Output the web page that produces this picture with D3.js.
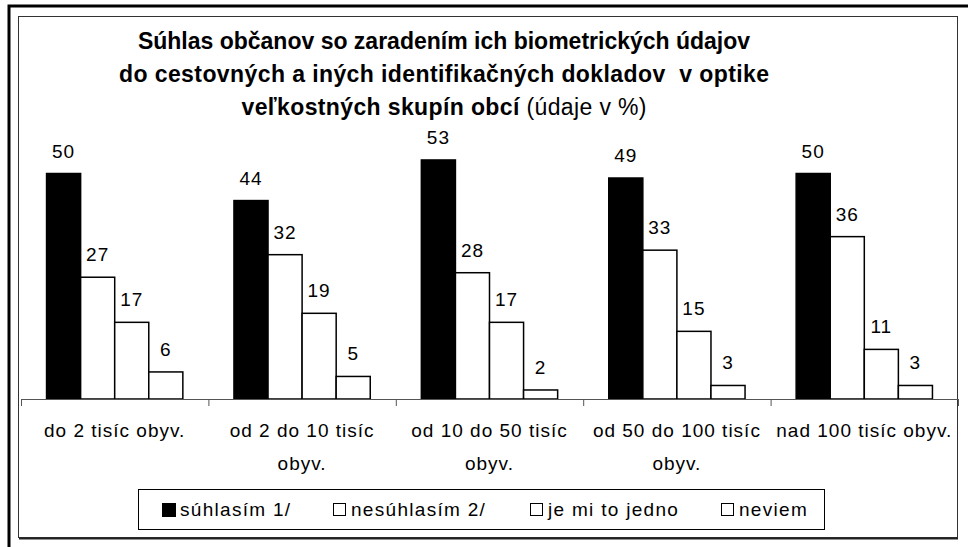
<!DOCTYPE html>
<html>
<head>
<meta charset="utf-8">
<script src="https://cdn.jsdelivr.net/npm/d3@7"></script>
<style>
	body { margin:0; background:#fff; }
	svg { display:block; font-family:"Liberation Sans", Arial, sans-serif; }
</style>
</head>
<body>
<div id="chart"></div>
<script>
	// data (údaje v %)
	var categories = [
		["do 2 tisíc obyv."],
		["od 2 do 10 tisíc", "obyv."],
		["od 10 do 50 tisíc", "obyv."],
		["od 50 do 100 tisíc", "obyv."],
		["nad 100 tisíc obyv."]
	];
	var seriesNames = ["súhlasím 1/", "nesúhlasím 2/", "je mi to jedno", "neviem"];
	var suhlasim   = [50, 44, 53, 49, 50];
	var nesuhlasim = [27, 32, 28, 33, 36];
	var jedno      = [17, 19, 17, 15, 11];
	var neviem     = [6, 5, 2, 3, 3];
	var seriesFill = ["#000000", "#ffffff", "#ffffff", "#ffffff"];

	var series = [suhlasim, nesuhlasim, jedno, neviem];

	var W = 968, H = 547;
	var svg = d3.select("#chart").append("svg")
		.attr("width", W)
		.attr("height", H);

	// frames
	svg.append("path")
		.attr("d", "M9,547V6H968")
		.attr("fill", "none")
		.attr("stroke", "#000")
		.attr("stroke-width", 3);
	svg.append("rect")
		.attr("x", 18.5).attr("y", 16.5)
		.attr("width", 939).attr("height", 521)
		.attr("fill", "#fff")
		.attr("stroke", "#333")
		.attr("stroke-width", 1);
	svg.append("line")
		.attr("x1", 19).attr("x2", 958)
		.attr("y1", 538.5).attr("y2", 538.5)
		.attr("stroke", "#222").attr("stroke-width", 2);

	// title
	var title = svg.append("text")
		.attr("text-anchor", "middle")
		.attr("font-size", 23)
		.attr("font-weight", "bold")
		.attr("fill", "#000")
		.attr("xml:space", "preserve");
	title.append("tspan").attr("x", 444).attr("y", 49)
		.text("Súhlas občanov so zaradením ich biometrických údajov");
	title.append("tspan").attr("x", 444).attr("y", 82)
		.attr("textLength", 650).attr("lengthAdjust", "spacing")
		.text("do cestovných a iných identifikačných dokladov  v optike");
	var t3 = title.append("tspan").attr("x", 444).attr("y", 115)
		.attr("textLength", 405).attr("lengthAdjust", "spacing");
	t3.append("tspan").text("veľkostných skupín obcí ");
	t3.append("tspan").attr("font-weight", "normal").text("(údaje v %)");

	// scales
	var baseY = 399;
	var y = d3.scaleLinear().domain([0, 60]).range([baseY, baseY - 60 * 4.51]);
	var x0 = d3.scaleBand().domain(d3.range(categories.length)).range([21, 958]).paddingInner(0);
	var x1 = d3.scaleBand().domain(d3.range(seriesNames.length))
		.range([0, x0.bandwidth()]).paddingInner(0).paddingOuter(0.75);
	var xb = d3.scaleLinear().domain([0, categories.length]).range([21, 958]);

	// bars
	var groups = svg.selectAll("g.cat")
		.data(categories)
		.enter().append("g")
		.attr("class", "cat")
		.attr("transform", function(d, i){ return "translate(" + x0(i) + ",0)"; });

	groups.each(function(c, ci){
		var g = d3.select(this);
		var vals = series.map(function(s, si){ return { si: si, v: s[ci] }; });
		g.selectAll("rect").data(vals).enter().append("rect")
			.attr("x", function(d){ return x1(d.si); })
			.attr("y", function(d){ return y(d.v); })
			.attr("width", x1.bandwidth())
			.attr("height", function(d){ return baseY - y(d.v); })
			.attr("fill", function(d){ return seriesFill[d.si]; })
			.attr("stroke", "#000")
			.attr("stroke-width", 1.5);
		g.selectAll("text.val").data(vals).enter().append("text")
			.attr("class", "val")
			.attr("x", function(d){ return x1(d.si) + x1.bandwidth() / 2; })
			.attr("y", function(d){ return y(d.v) - 16; })
			.attr("text-anchor", "middle")
			.attr("font-size", 19)
			.attr("letter-spacing", 1)
			.text(function(d){ return d.v; });
	});

	// x axis with ticks at the category borders
	var axis = svg.append("g")
		.attr("transform", "translate(0," + baseY + ")")
		.call(d3.axisBottom(xb).tickValues(d3.range(categories.length + 1))
			.tickFormat("").tickSize(7).tickSizeOuter(0));
	axis.select(".domain").attr("stroke", "#555");
	axis.selectAll(".tick line").attr("stroke", "#555");

	// category labels
	svg.selectAll("text.cat").data(categories).enter().append("text")
		.attr("class", "cat")
		.attr("text-anchor", "middle")
		.attr("font-size", 19)
		.attr("letter-spacing", 1)
		.each(function(lines, i){
			var t = d3.select(this);
			lines.forEach(function(l, li){
				t.append("tspan")
					.attr("x", x0(i) + x0.bandwidth() / 2)
					.attr("y", 437 + li * 33)
					.text(l);
			});
		});

	// legend
	svg.append("rect")
		.attr("x", 138.5).attr("y", 489.5)
		.attr("width", 686).attr("height", 40)
		.attr("fill", "#fff").attr("stroke", "#000");
	var legX = [162, 333, 530, 721];
	var leg = svg.selectAll("g.leg").data(seriesNames).enter().append("g")
		.attr("class", "leg")
		.attr("transform", function(d, i){ return "translate(" + legX[i] + ",0)"; });
	leg.append("rect")
		.attr("x", 0.5).attr("y", 503.5)
		.attr("width", function(d, i){ return i == 0 ? 13 : 12; })
		.attr("height", function(d, i){ return i == 0 ? 13 : 12; })
		.attr("fill", function(d, i){ return seriesFill[i]; })
		.attr("stroke", "#000").attr("stroke-width", 1);
	leg.append("text")
		.attr("x", 18).attr("y", 516)
		.attr("font-size", 19)
		.attr("letter-spacing", 1.3)
		.text(function(d){ return d; });
</script>
</body>
</html>
